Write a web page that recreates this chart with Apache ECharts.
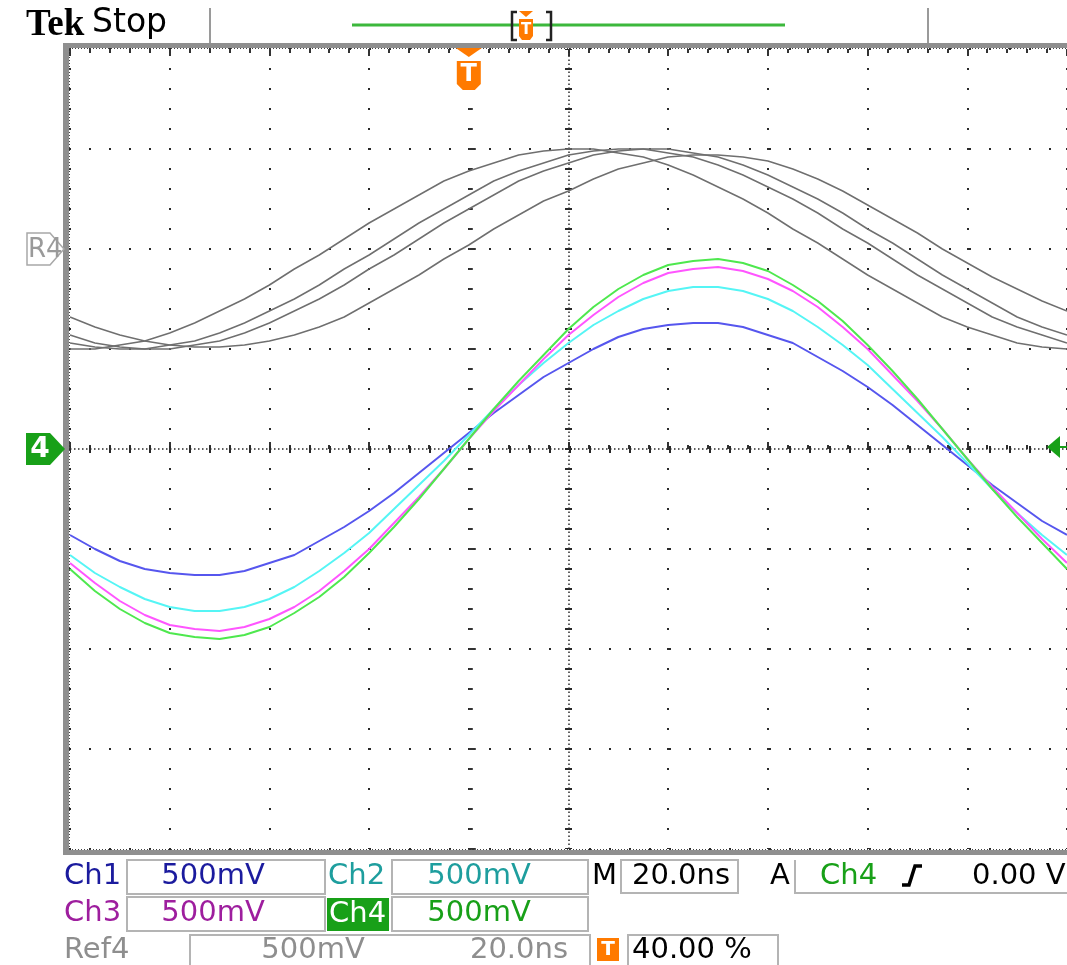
<!DOCTYPE html>
<html>
<head>
<meta charset="utf-8">
<script src="https://cdn.jsdelivr.net/npm/echarts@6/dist/echarts.min.js"></script>
<style>
  html, body { margin: 0; padding: 0; background: #fff; overflow: hidden; }
  #scope { width: 1067px; height: 965px; }
</style>
</head>
<body>
<div id="scope"></div>
<script>
// Time base: 20 ns/div, 10 divisions, trigger at 40 % of the record (t = 0), one sample every 5 ns
const timeNs = [-80, -75, -70, -65, -60, -55, -50, -45, -40, -35, -30, -25, -20, -15, -10, -5,
  0, 5, 10, 15, 20, 25, 30, 35, 40, 45, 50, 55, 60, 65, 70, 75, 80, 85, 90, 95, 100, 105, 110, 115, 120];

// Live channels, volts (500 mV/div, all grounded at screen centre)
const ch1 = [-0.43, -0.50, -0.56, -0.60, -0.62, -0.63, -0.63, -0.61, -0.57, -0.53, -0.46, -0.39, -0.31, -0.22, -0.12, -0.02,
  0.08, 0.18, 0.27, 0.36, 0.43, 0.50, 0.56, 0.60, 0.62, 0.63, 0.63, 0.61, 0.57, 0.53, 0.46, 0.39, 0.31, 0.22, 0.12, 0.02,
  -0.08, -0.18, -0.27, -0.36, -0.43];
const ch2 = [-0.53, -0.62, -0.69, -0.75, -0.79, -0.81, -0.81, -0.79, -0.75, -0.69, -0.61, -0.52, -0.42, -0.30, -0.18, -0.06,
  0.07, 0.20, 0.32, 0.43, 0.53, 0.62, 0.69, 0.75, 0.79, 0.81, 0.81, 0.79, 0.75, 0.69, 0.61, 0.52, 0.42, 0.30, 0.18, 0.06,
  -0.07, -0.20, -0.32, -0.43, -0.53];
const ch3 = [-0.57, -0.67, -0.76, -0.83, -0.88, -0.90, -0.91, -0.89, -0.85, -0.79, -0.71, -0.61, -0.50, -0.37, -0.24, -0.10,
  0.05, 0.19, 0.32, 0.45, 0.57, 0.67, 0.76, 0.83, 0.88, 0.90, 0.91, 0.89, 0.85, 0.79, 0.71, 0.61, 0.50, 0.37, 0.24, 0.10,
  -0.05, -0.19, -0.32, -0.45, -0.57];
const ch4 = [-0.60, -0.71, -0.80, -0.87, -0.92, -0.94, -0.95, -0.93, -0.89, -0.82, -0.74, -0.64, -0.52, -0.39, -0.25, -0.10,
  0.05, 0.20, 0.34, 0.47, 0.60, 0.71, 0.80, 0.87, 0.92, 0.94, 0.95, 0.93, 0.89, 0.82, 0.74, 0.64, 0.52, 0.39, 0.25, 0.10,
  -0.05, -0.20, -0.34, -0.47, -0.60];

// Saved reference Ref4: four stored sweeps, volts about the reference's own ground
const ref4a = [-0.50, -0.50, -0.48, -0.46, -0.42, -0.37, -0.31, -0.25, -0.18, -0.10, -0.03, 0.05, 0.13, 0.20, 0.27, 0.34,
  0.39, 0.43, 0.47, 0.49, 0.50, 0.50, 0.48, 0.46, 0.42, 0.37, 0.31, 0.25, 0.18, 0.10, 0.03, -0.05, -0.13, -0.20, -0.27,
  -0.34, -0.39, -0.43, -0.47, -0.49, -0.50];
const ref4b = [-0.47, -0.49, -0.50, -0.50, -0.48, -0.46, -0.42, -0.37, -0.31, -0.25, -0.18, -0.10, -0.03, 0.05, 0.13, 0.20,
  0.27, 0.34, 0.39, 0.43, 0.47, 0.49, 0.50, 0.50, 0.48, 0.46, 0.42, 0.37, 0.31, 0.25, 0.18, 0.10, 0.03, -0.05, -0.13,
  -0.20, -0.27, -0.34, -0.39, -0.43, -0.47];
const ref4c = [-0.43, -0.47, -0.49, -0.50, -0.50, -0.48, -0.46, -0.42, -0.37, -0.31, -0.25, -0.18, -0.10, -0.03, 0.05, 0.13,
  0.20, 0.27, 0.34, 0.39, 0.43, 0.47, 0.49, 0.50, 0.50, 0.48, 0.46, 0.42, 0.37, 0.31, 0.25, 0.18, 0.10, 0.03, -0.05,
  -0.13, -0.20, -0.27, -0.34, -0.39, -0.43];
const ref4d = [-0.34, -0.39, -0.43, -0.46, -0.48, -0.49, -0.49, -0.48, -0.46, -0.43, -0.39, -0.34, -0.27, -0.20, -0.13, -0.05,
  0.02, 0.10, 0.17, 0.24, 0.29, 0.35, 0.40, 0.43, 0.46, 0.47, 0.47, 0.46, 0.44, 0.40, 0.35, 0.29, 0.22, 0.15, 0.08,
  0.00, -0.07, -0.14, -0.20, -0.26, -0.31];
const ref4Position = 1.0;   // Ref4 ground sits two divisions above centre

// Readout texts
const chScale = ['500mV', '500mV', '500mV', '500mV'];
const ref4Scale = ['500mV', '20.0ns'];
const horizScale = '20.0ns';
const trigSource = 'Ch4';
const trigLevel = '0.00 V';
const trigPos = '40.00 %';

const C = {
  ch1: '#5656ee', ch2: '#55f5f5', ch3: '#ff55ff', ch4: '#4ee84e', ref: '#6f6f6f',
  t1: '#1b1b9e', t2: '#1e9e9e', t3: '#9e1e9e', t4: '#18a018', tref: '#8e8e8e',
  orange: '#ff7a00', grid: '#2a2a2a', frame: '#8f8f8f', box: '#b4b4b4'
};
const FONT = '"DejaVu Sans", Verdana, sans-serif';

const pair = (arr, off) => timeNs.map((t, i) => [t, arr[i] + (off || 0)]);

const chart = echarts.init(document.getElementById('scope'), null, { renderer: 'canvas' });

// dense sampling, so the record is drawn point to point like the scope does
function traceSeries(name, arr, color, width, off) {
  return {
    name, type: 'line', data: pair(arr, off), smooth: false, symbol: 'none',
    lineStyle: { color, width, join: 'round' }, silent: true, animation: false, z: 5
  };
}

const axisCommonX = {
  type: 'value', min: -80, max: 120, interval: 20,
  axisLabel: { show: false }, axisLine: { show: false },
  axisTick: { show: true, inside: true, length: 7, lineStyle: { color: '#333', width: 2 } },
  minorTick: { show: true, splitNumber: 5, length: 4, lineStyle: { color: '#333', width: 2 } }
};
const axisCommonY = {
  type: 'value', min: -2, max: 2, interval: 0.5,
  axisLabel: { show: false }, axisLine: { show: false },
  axisTick: { show: true, inside: true, length: 7, lineStyle: { color: '#333', width: 2 } },
  minorTick: { show: true, splitNumber: 5, length: 4, lineStyle: { color: '#333', width: 2 } }
};

chart.setOption({
  animation: false,
  backgroundColor: '#ffffff',
  grid: { left: 70, top: 49, width: 1000, height: 800, show: false },
  xAxis: [
    Object.assign({}, axisCommonX, {
      position: 'bottom',
      splitLine: { show: true, lineStyle: { color: C.grid, width: 2, type: [2, 18], dashOffset: 1 } }
    }),
    Object.assign({}, axisCommonX, { position: 'top', splitLine: { show: false } })
  ],
  yAxis: [
    Object.assign({}, axisCommonY, {
      position: 'left',
      splitLine: { show: true, lineStyle: { color: C.grid, width: 2, type: [2, 18], dashOffset: 1 } }
    })
  ],
  series: [
    {
      name: 'graticule', type: 'line', data: [], silent: true, z: 2,
      markLine: {
        silent: true, symbol: 'none', label: { show: false }, animation: false,
        lineStyle: { color: C.grid, width: 1.5, type: [1.5, 2.5] },
        data: [{ xAxis: 20 }, { yAxis: 0 }]
      }
    },
    {
      name: 'graticule-ticks', type: 'line', data: [], silent: true, z: 2,
      markLine: {
        silent: true, symbol: 'none', label: { show: false }, animation: false,
        lineStyle: { color: C.grid, width: 7, type: [2, 18], dashOffset: 1 },
        data: [{ xAxis: 20 }, { yAxis: 0 }]
      }
    },
    traceSeries('Ref4 a', ref4a, C.ref, 1.5, ref4Position),
    traceSeries('Ref4 b', ref4b, C.ref, 1.5, ref4Position),
    traceSeries('Ref4 c', ref4c, C.ref, 1.5, ref4Position),
    traceSeries('Ref4 d', ref4d, C.ref, 1.5, ref4Position),
    traceSeries('Ch1', ch1, C.ch1, 2),
    traceSeries('Ch2', ch2, C.ch2, 2),
    traceSeries('Ch3', ch3, C.ch3, 2),
    traceSeries('Ch4', ch4, C.ch4, 2)
  ]
});

// ---- screen furniture: frame, markers, readouts ----
const trigX = chart.convertToPixel({ xAxisIndex: 0 }, 0);
const gndY = chart.convertToPixel({ yAxisIndex: 0 }, 0);
const refY = chart.convertToPixel({ yAxisIndex: 0 }, ref4Position);

const g = [];
const text = (x, y, s, fill, size, opt) => g.push(Object.assign({
  type: 'text', silent: true, z: 20,
  style: Object.assign({ x, y, text: s, fill, font: (opt && opt.weight ? opt.weight + ' ' : '') + size + 'px ' + FONT,
    textAlign: 'left', textVerticalAlign: 'middle' }, opt && opt.style)
}));
const rect = (x, y, w, h, style, z) => g.push({ type: 'rect', silent: true, z: z || 15, shape: { x, y, width: w, height: h }, style });
const line = (x1, y1, x2, y2, stroke, lw, dash) => g.push({ type: 'line', silent: true, z: 15, shape: { x1, y1, x2, y2 }, style: { stroke, lineWidth: lw, lineDash: dash } });
const poly = (pts, style, z) => g.push({ type: 'polygon', silent: true, z: z || 16, shape: { points: pts }, style });

// frame around the graticule
rect(63, 43, 6, 812, { fill: C.frame });
rect(63, 43, 1010, 5, { fill: C.frame });
rect(63, 850, 1010, 5, { fill: C.frame });
line(69.5, 48, 69.5, 850, '#444', 1, [1, 2]);
line(69, 48.5, 1067, 48.5, '#444', 1, [1, 2]);
line(69, 849.5, 1067, 849.5, '#444', 1, [1, 2]);

// header
text(26, 25, 'Tek', '#000', 37, { style: { font: 'bold 37px "Liberation Serif", "DejaVu Serif", serif' } });
text(92, 23, 'Stop', '#000', 33);
line(210, 8, 210, 43, '#9a9a9a', 2);
line(928, 8, 928, 43, '#9a9a9a', 2);
line(352, 25, 785, 25, '#3cb83c', 3);
// record window brackets with trigger flag
g.push({ type: 'polyline', silent: true, z: 16, shape: { points: [[517, 12], [512, 12], [512, 40], [517, 40]] }, style: { stroke: '#222', lineWidth: 2.5, fill: null } });
g.push({ type: 'polyline', silent: true, z: 16, shape: { points: [[546, 12], [551, 12], [551, 40], [546, 40]] }, style: { stroke: '#222', lineWidth: 2.5, fill: null } });
poly([[519, 11], [533, 11], [526, 17]], { fill: C.orange });
poly([[519, 19], [533, 19], [533, 36], [530, 40], [522, 40], [519, 36]], { fill: C.orange });
text(526, 30, 'T', '#fff', 15, { weight: 'bold', style: { textAlign: 'center' } });

// trigger position marker on the graticule
poly([[trigX - 13, 48], [trigX + 13, 48], [trigX, 57]], { fill: C.orange });
poly([[trigX - 12, 61], [trigX + 12, 61], [trigX + 12, 84], [trigX + 6, 90], [trigX - 6, 90], [trigX - 12, 84]], { fill: C.orange });
text(trigX, 75, 'T', '#fff', 24, { weight: 'bold', style: { textAlign: 'center' } });

// Ref4 ground marker
poly([[27, refY - 16], [50, refY - 16], [64, refY], [50, refY + 16], [27, refY + 16]], { fill: '#fff', stroke: '#a8a8a8', lineWidth: 1.5 });
text(28, refY + 1, 'R4', '#9a9a9a', 26);

// Ch4 ground marker
poly([[26, gndY - 16], [50, gndY - 16], [65, gndY], [50, gndY + 16], [26, gndY + 16]], { fill: C.t4 });
text(40, gndY + 1, '4', '#fff', 28, { weight: 'bold', style: { textAlign: 'center' } });

// trigger level marker at right edge
poly([[1047, gndY - 2], [1060, gndY - 13], [1060, gndY + 9]], { fill: C.t4 });
line(1058, gndY - 2, 1067, gndY - 2, C.t4, 2);

// readout boxes
const bx = { stroke: C.box, lineWidth: 2, fill: 'transparent' };
rect(127, 860, 198, 34, bx);
rect(392, 860, 196, 34, bx);
rect(621, 860, 117, 33, bx);
rect(127, 897, 198, 34, bx);
rect(392, 897, 196, 34, bx);
rect(190, 935, 400, 40, bx);
rect(628, 935, 150, 40, bx);
line(795, 860, 795, 894, C.box, 2);
line(795, 893, 1067, 893, C.box, 2);

const FS = 29;
text(64, 876, 'Ch1', C.t1, FS);
text(213, 876, chScale[0], C.t1, FS, { style: { textAlign: 'center' } });
text(328, 876, 'Ch2', C.t2, FS);
text(479, 876, chScale[1], C.t2, FS, { style: { textAlign: 'center' } });
text(592, 876, 'M', '#000', FS);
text(681, 876, horizScale, '#000', FS, { style: { textAlign: 'center' } });
text(770, 876, 'A', '#000', FS);
text(820, 876, trigSource, C.t4, FS);
g.push({ type: 'polyline', silent: true, z: 16, shape: { points: [[902, 885], [909, 885], [915, 866], [922, 866]] }, style: { stroke: '#000', lineWidth: 3.5, fill: null } });
text(972, 876, trigLevel, '#000', FS);

text(64, 913, 'Ch3', C.t3, FS);
text(213, 913, chScale[2], C.t3, FS, { style: { textAlign: 'center' } });
rect(327, 898, 62, 33, { fill: C.t4 });
text(329, 914, 'Ch4', '#fff', FS);
text(479, 913, chScale[3], C.t4, FS, { style: { textAlign: 'center' } });

text(64, 950, 'Ref4', C.tref, FS);
text(313, 950, ref4Scale[0], C.tref, FS, { style: { textAlign: 'center' } });
text(519, 950, ref4Scale[1], C.tref, FS, { style: { textAlign: 'center' } });
rect(597, 938, 22, 23, { fill: C.orange }, 16);
text(608, 950, 'T', '#fff', 20, { weight: 'bold', style: { textAlign: 'center' } });
text(632, 950, trigPos, '#000', FS);

chart.setOption({ graphic: g });
</script>
</body>
</html>
